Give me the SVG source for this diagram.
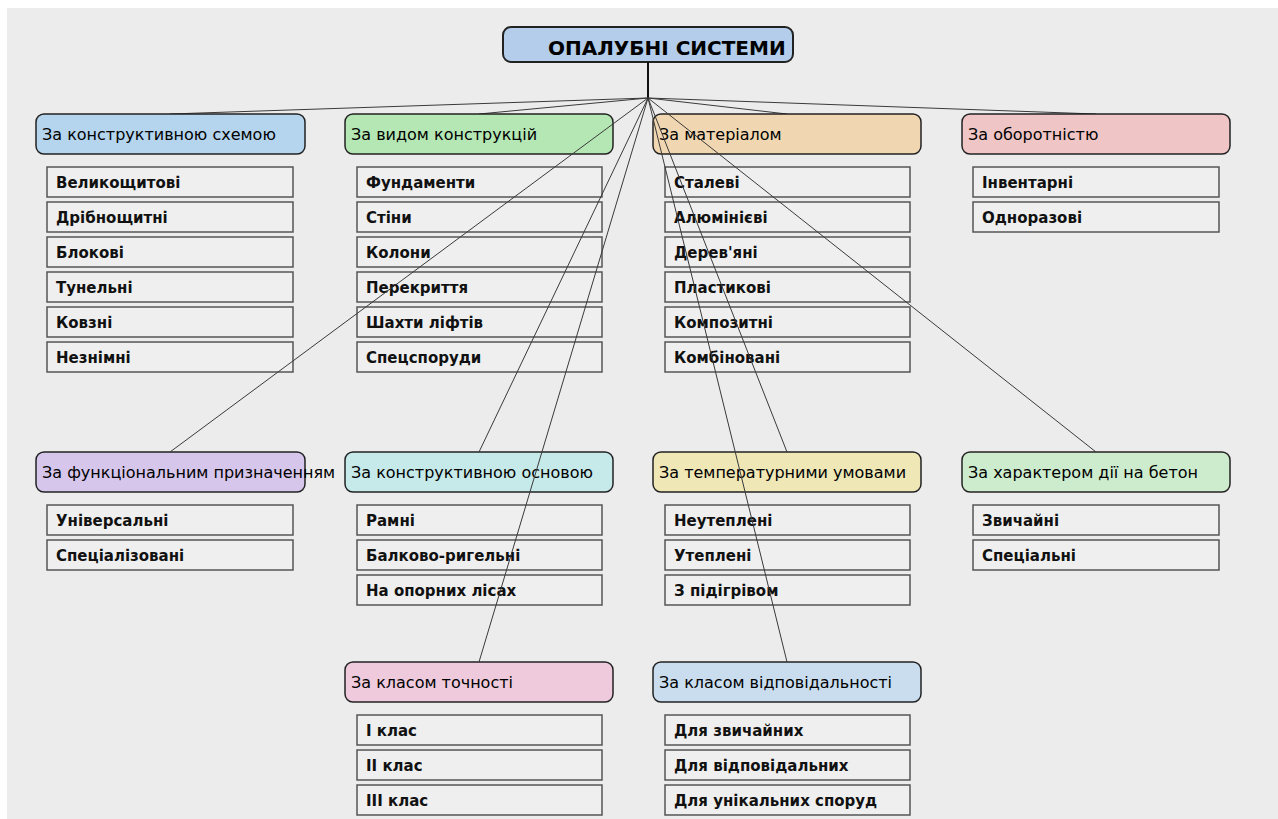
<svg xmlns="http://www.w3.org/2000/svg" width="1278" height="819" viewBox="0 0 1278 819">
<style>
.hd{stroke:#222;stroke-width:1.5}
.it{fill:#efefef;stroke:#555;stroke-width:1.5}
.ht{font-family:"DejaVu Sans",sans-serif;font-size:16px;fill:#000}
.tt{font-family:"DejaVu Sans",sans-serif;font-size:15px;font-weight:bold;fill:#111}
.ln{stroke:#3a3a3a;stroke-width:1;fill:none}
</style>
<rect x="0" y="0" width="1278" height="819" fill="#ffffff"/>
<rect x="7" y="8" width="1271" height="811" fill="#ececec"/>
<g id="title">
<rect x="503" y="27" width="290" height="35" rx="8" fill="#b3cdea" stroke="#222" stroke-width="2"/>
<text x="548" y="55" font-family="DejaVu Sans,sans-serif" font-size="20" font-weight="bold" fill="#000">ОПАЛУБНІ СИСТЕМИ</text>
</g>
<g id="connectors">
<line x1="648" y1="62" x2="648" y2="98" stroke="#111" stroke-width="2"/>
<line class="ln" x1="648" y1="98" x2="170" y2="114"/>
<line class="ln" x1="648" y1="98" x2="479" y2="114"/>
<line class="ln" x1="648" y1="98" x2="787" y2="114"/>
<line class="ln" x1="648" y1="98" x2="1096" y2="114"/>
</g>
<g id="cat1"><rect class="hd" x="36" y="114" width="269" height="40" rx="8" fill="#b5d5ee"/><text class="ht" x="42" y="140">За конструктивною схемою</text>
<rect class="it" x="47" y="167" width="246" height="30"/><text class="tt" x="56" y="188">Великощитові</text>
<rect class="it" x="47" y="202" width="246" height="30"/><text class="tt" x="56" y="223">Дрібнощитні</text>
<rect class="it" x="47" y="237" width="246" height="30"/><text class="tt" x="56" y="258">Блокові</text>
<rect class="it" x="47" y="272" width="246" height="30"/><text class="tt" x="56" y="293">Тунельні</text>
<rect class="it" x="47" y="307" width="246" height="30"/><text class="tt" x="56" y="328">Ковзні</text>
<rect class="it" x="47" y="342" width="246" height="30"/><text class="tt" x="56" y="363">Незнімні</text>
</g>
<g id="cat2"><rect class="hd" x="345" y="114" width="268" height="40" rx="8" fill="#b4e7b4"/><text class="ht" x="351" y="140">За видом конструкцій</text>
<rect class="it" x="357" y="167" width="245" height="30"/><text class="tt" x="366" y="188">Фундаменти</text>
<rect class="it" x="357" y="202" width="245" height="30"/><text class="tt" x="366" y="223">Стіни</text>
<rect class="it" x="357" y="237" width="245" height="30"/><text class="tt" x="366" y="258">Колони</text>
<rect class="it" x="357" y="272" width="245" height="30"/><text class="tt" x="366" y="293">Перекриття</text>
<rect class="it" x="357" y="307" width="245" height="30"/><text class="tt" x="366" y="328">Шахти ліфтів</text>
<rect class="it" x="357" y="342" width="245" height="30"/><text class="tt" x="366" y="363">Спецспоруди</text>
</g>
<g id="cat3"><rect class="hd" x="653" y="114" width="268" height="40" rx="8" fill="#f0d7b2"/><text class="ht" x="659" y="140">За матеріалом</text>
<rect class="it" x="665" y="167" width="245" height="30"/><text class="tt" x="674" y="188">Сталеві</text>
<rect class="it" x="665" y="202" width="245" height="30"/><text class="tt" x="674" y="223">Алюмінієві</text>
<rect class="it" x="665" y="237" width="245" height="30"/><text class="tt" x="674" y="258">Дерев'яні</text>
<rect class="it" x="665" y="272" width="245" height="30"/><text class="tt" x="674" y="293">Пластикові</text>
<rect class="it" x="665" y="307" width="245" height="30"/><text class="tt" x="674" y="328">Композитні</text>
<rect class="it" x="665" y="342" width="245" height="30"/><text class="tt" x="674" y="363">Комбіновані</text>
</g>
<g id="cat4"><rect class="hd" x="962" y="114" width="268" height="40" rx="8" fill="#efc5c5"/><text class="ht" x="968" y="140">За оборотністю</text>
<rect class="it" x="973" y="167" width="246" height="30"/><text class="tt" x="982" y="188">Інвентарні</text>
<rect class="it" x="973" y="202" width="246" height="30"/><text class="tt" x="982" y="223">Одноразові</text>
</g>
<g id="cat5"><rect class="hd" x="36" y="452" width="269" height="40" rx="8" fill="#d7c6ec"/><text class="ht" x="42" y="478">За функціональним призначенням</text>
<rect class="it" x="47" y="505" width="246" height="30"/><text class="tt" x="56" y="526">Універсальні</text>
<rect class="it" x="47" y="540" width="246" height="30"/><text class="tt" x="56" y="561">Спеціалізовані</text>
</g>
<g id="cat6"><rect class="hd" x="345" y="452" width="268" height="40" rx="8" fill="#c6e9e9"/><text class="ht" x="351" y="478">За конструктивною основою</text>
<rect class="it" x="357" y="505" width="245" height="30"/><text class="tt" x="366" y="526">Рамні</text>
<rect class="it" x="357" y="540" width="245" height="30"/><text class="tt" x="366" y="561">Балково-ригельні</text>
<rect class="it" x="357" y="575" width="245" height="30"/><text class="tt" x="366" y="596">На опорних лісах</text>
</g>
<g id="cat7"><rect class="hd" x="653" y="452" width="268" height="40" rx="8" fill="#efe7b6"/><text class="ht" x="659" y="478">За температурними умовами</text>
<rect class="it" x="665" y="505" width="245" height="30"/><text class="tt" x="674" y="526">Неутеплені</text>
<rect class="it" x="665" y="540" width="245" height="30"/><text class="tt" x="674" y="561">Утеплені</text>
<rect class="it" x="665" y="575" width="245" height="30"/><text class="tt" x="674" y="596">З підігрівом</text>
</g>
<g id="cat8"><rect class="hd" x="962" y="452" width="268" height="40" rx="8" fill="#cdeccd"/><text class="ht" x="968" y="478">За характером дії на бетон</text>
<rect class="it" x="973" y="505" width="246" height="30"/><text class="tt" x="982" y="526">Звичайні</text>
<rect class="it" x="973" y="540" width="246" height="30"/><text class="tt" x="982" y="561">Спеціальні</text>
</g>
<g id="cat9"><rect class="hd" x="345" y="662" width="268" height="40" rx="8" fill="#efcadc"/><text class="ht" x="351" y="688">За класом точності</text>
<rect class="it" x="357" y="715" width="245" height="30"/><text class="tt" x="366" y="736">I клас</text>
<rect class="it" x="357" y="750" width="245" height="30"/><text class="tt" x="366" y="771">II клас</text>
<rect class="it" x="357" y="785" width="245" height="30"/><text class="tt" x="366" y="806">III клас</text>
</g>
<g id="cat10"><rect class="hd" x="653" y="662" width="268" height="40" rx="8" fill="#c9ddef"/><text class="ht" x="659" y="688">За класом відповідальності</text>
<rect class="it" x="665" y="715" width="245" height="30"/><text class="tt" x="674" y="736">Для звичайних</text>
<rect class="it" x="665" y="750" width="245" height="30"/><text class="tt" x="674" y="771">Для відповідальних</text>
<rect class="it" x="665" y="785" width="245" height="30"/><text class="tt" x="674" y="806">Для унікальних споруд</text>
</g>
<g id="connectors-over">
<line class="ln" x1="648" y1="98" x2="170" y2="452"/>
<line class="ln" x1="648" y1="98" x2="479" y2="452"/>
<line class="ln" x1="648" y1="98" x2="787" y2="452"/>
<line class="ln" x1="648" y1="98" x2="1096" y2="452"/>
<line class="ln" x1="648" y1="98" x2="479" y2="662"/>
<line class="ln" x1="648" y1="98" x2="787" y2="662"/>
</g>
</svg>
